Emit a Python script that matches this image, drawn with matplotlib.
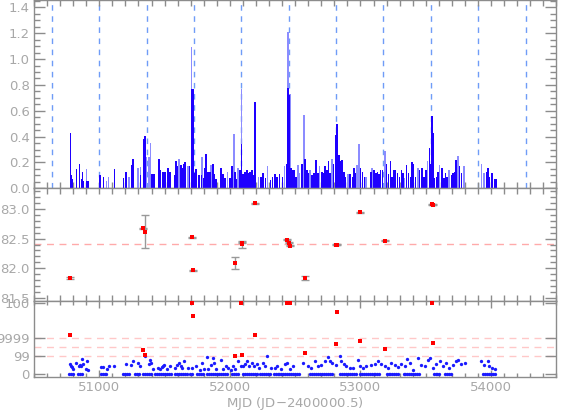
import numpy as np
import matplotlib.pyplot as plt
from matplotlib.ticker import MultipleLocator, FixedLocator

# top panel: bars (MJD, height)
dark_mjd = [50778, 50786, 50796, 50824, 50847, 50862, 50870, 50878, 50901, 50912,
            51005, 51031, 51115, 51184, 51204, 51248, 51256, 51314, 51337, 51350,
            51403, 51418, 51459, 51467, 51487, 51503, 51528, 51541, 51579, 51589,
            51600, 51625, 51635, 51646, 51658, 51692, 51707, 51717, 51727, 51740,
            51765, 51783, 51799, 51809, 51819, 51834, 51847, 51872, 51880, 51893,
            51931, 51949, 51962, 52000, 52015, 52040, 52051, 52076, 52089, 52102,
            52115, 52132, 52143, 52155, 52168, 52186, 52193, 52237, 52255, 52273,
            52311, 52327, 52344, 52359, 52380, 52403, 52434, 52444, 52454, 52467,
            52484, 52495, 52505, 52553, 52576, 52589, 52602, 52627, 52640, 52652,
            52660, 52675, 52704, 52717, 52729, 52742, 52755, 52767, 52793, 52811,
            52819, 52834, 52847, 52857, 52874, 52887, 52918, 52939, 52951, 52962,
            53000, 53015, 53031, 53079, 53102, 53117, 53130, 53142, 53155, 53168,
            53199, 53214, 53230, 53242, 53257, 53270, 53285, 53298, 53313, 53326,
            53354, 53367, 53385, 53394, 53405, 53420, 53453, 53471, 53486, 53502,
            53528, 53538, 53548, 53555, 53568, 53581, 53593, 53624, 53639, 53652,
            53665, 53696, 53708, 53721, 53734, 53757, 53774, 53968, 53979, 53989,
            54006, 54027, 54037]
dark_h = [0.425, 0.10, 0.07, 0.147, 0.19, 0.07, 0.13, 0.06, 0.06, 0.06,
          0.105, 0.087, 0.146, 0.08, 0.127, 0.18, 0.23, 0.10, 0.38, 0.405,
          0.11, 0.11, 0.225, 0.14, 0.13, 0.13, 0.155, 0.13, 0.10, 0.21,
          0.17, 0.18, 0.155, 0.185, 0.205, 0.17, 0.765, 0.77, 0.12, 0.15,
          0.10, 0.10, 0.08, 0.155, 0.265, 0.13, 0.13, 0.185, 0.11, 0.07,
          0.16, 0.11, 0.08, 0.08, 0.17, 0.13, 0.07, 0.14, 0.34, 0.11,
          0.13, 0.14, 0.12, 0.13, 0.14, 0.10, 0.665, 0.085, 0.12, 0.08,
          0.065, 0.09, 0.11, 0.09, 0.11, 0.09, 0.19, 0.78, 0.72, 0.155,
          0.14, 0.14, 0.09, 0.185, 0.23, 0.14, 0.12, 0.10, 0.12, 0.12,
          0.22, 0.12, 0.13, 0.12, 0.17, 0.14, 0.21, 0.12, 0.19, 0.41,
          0.50, 0.26, 0.21, 0.22, 0.13, 0.09, 0.11, 0.085, 0.155, 0.12,
          0.155, 0.13, 0.09, 0.13, 0.14, 0.12, 0.13, 0.11, 0.14, 0.14,
          0.19, 0.11, 0.21, 0.09, 0.14, 0.14, 0.12, 0.09, 0.145, 0.12,
          0.18, 0.12, 0.09, 0.20, 0.185, 0.09, 0.14, 0.155, 0.09, 0.145,
          0.31, 0.185, 0.56, 0.425, 0.08, 0.09, 0.13, 0.155, 0.08, 0.12,
          0.09, 0.10, 0.12, 0.13, 0.22, 0.17, 0.12, 0.13, 0.155, 0.09,
          0.12, 0.075, 0.07]
light_mjd = [50901, 51054, 51072, 51227, 51296, 51314, 51363, 51380, 51393, 51612,
             51681, 51707, 51785, 51857, 51982, 52030, 52063, 52089, 52219, 52288,
             52418, 52444, 52459, 52520, 52533, 52568, 52614, 52688, 52780, 52905,
             52974, 52989, 53041, 53088, 53186, 53339, 53440, 53515, 53606, 53678,
             53746, 53792, 53928, 53948]
light_h = [0.147, 0.06, 0.09, 0.09, 0.16, 0.165, 0.24, 0.24, 0.35, 0.23,
           0.17, 1.095, 0.24, 0.18, 0.13, 0.42, 0.16, 0.77, 0.09, 0.175,
           0.17, 1.21, 0.73, 0.18, 0.12, 0.57, 0.14, 0.175, 0.23, 0.11,
           0.18, 0.34, 0.085, 0.16, 0.29, 0.08, 0.16, 0.215, 0.18, 0.14,
           0.25, 0.17, 0.19, 0.12]
period_mjd = [50640, 51000, 51363, 51727, 52087, 52453, 52815, 53175, 53540, 53902, 54265]

# middle panel
mid_mjd = [50778, 51337, 51352, 51707, 51714, 52038, 52090, 52094, 52191, 52438,
           52449, 52459, 52574, 52816, 52823, 52994, 53186, 53545, 53555]
mid_val = [81.833, 82.677, 82.617, 82.522, 81.962, 82.083, 82.43, 82.405, 83.095, 82.483,
           82.428, 82.383, 81.833, 82.395, 82.40, 82.945, 82.465, 83.083, 83.072]
mid_err = [0.01, 0.01, 0.28, 0.01, 0.01, 0.1, 0.01, 0.06, 0.01, 0.01,
           0.01, 0.01, 0.03, 0.01, 0.01, 0.01, 0.01, 0.01, 0.01]
mid_ref = 82.405

# bottom panel (log10(x+1) units)
red_mjd = [50778, 51337, 51352, 51707, 51714, 52038, 52094, 52089, 52191, 52438,
           52459, 52574, 52816, 52820, 52994, 53186, 53548, 53555]
red_val = [4.38, 2.71, 2.17, 8.0, 6.59, 2.02, 2.1, 8.0, 4.34, 8.0,
           8.0, 2.4, 3.43, 7.0, 3.66, 2.86, 8.0, 3.47]
blue_mjd = [50778, 50786, 50793, 50801, 50824, 50842, 50852, 50860, 50870, 50878,
            50898, 50906, 50916, 51011, 51028, 51057, 51072, 51115, 51207, 51245,
            51256, 51298, 51314, 51350, 51378, 51388, 51395, 51408, 51451, 51464,
            51490, 51477, 51495, 51516, 51541, 51579, 51597, 51610, 51623, 51635,
            51650, 51681, 51707, 51740, 51770, 51788, 51803, 51821, 51834, 51852,
            51872, 51880, 51893, 51931, 51949, 51967, 51982, 52008, 52025, 52040,
            52066, 52082, 52102, 52115, 52128, 52148, 52166, 52186, 52204, 52222,
            52255, 52270, 52288, 52314, 52344, 52362, 52395, 52420, 52441, 52459,
            52484, 52561, 52599, 52624, 52650, 52675, 52701, 52726, 52752, 52764,
            52785, 52815, 52841, 52854, 52872, 52892, 52917, 52943, 52981, 52994,
            53019, 53045, 53083, 53109, 53134, 53160, 53185, 53211, 53236, 53262,
            53287, 53313, 53338, 53356, 53376, 53402, 53440, 53466, 53491, 53517,
            53530, 53555, 53580, 53606, 53631, 53657, 53682, 53708, 53733, 53746,
            53772, 53797, 53925, 53950, 53976, 53988, 54009, 54032]
blue_val = [1.14, 0.91, 0.76, 0.61, 1.29, 0.91, 0.99, 0.84, 1.68, 1.14,
            0.61, 1.41, 0.46, 0.80, 0.80, 0.57, 0.91, 0.91, 1.07, 1.03,
            1.41, 1.29, 0.84, 1.98, 1.10, 1.52, 1.29, 0.61, 0.69, 0.53,
            0.91, 0.76, 1.03, 0.61, 0.84, 0.72, 1.03, 1.29, 0.91, 0.65,
            1.41, 0.72, 0.72, 0.84, 0.46, 1.29, 0.61, 1.90, 0.61, 1.03,
            1.79, 1.29, 0.61, 1.52, 0.61, 0.84, 0.72, 0.42, 0.91, 0.61,
            1.41, 0.91, 0.84, 1.14, 1.41, 0.91, 1.29, 0.84, 1.14, 0.72,
            1.29, 0.84, 2.02, 0.72, 0.65, 0.84, 0.61, 1.14, 1.29, 0.61,
            0.91, 1.22, 0.91, 0.72, 1.41, 0.84, 1.03, 1.41, 1.87, 1.49,
            1.22, 1.03, 1.98, 1.41, 1.14, 0.91, 0.72, 0.65, 1.60, 0.91,
            0.65, 0.84, 1.03, 1.14, 1.41, 1.14, 0.91, 0.65, 1.29, 1.03,
            0.76, 1.14, 0.84, 1.71, 1.22, 0.46, 1.79, 1.03, 0.84, 1.60,
            1.79, 0.72, 1.14, 1.41, 0.84, 1.22, 0.65, 1.03, 1.41, 1.60,
            1.14, 1.29, 1.41, 1.03, 1.49, 0.84, 0.65, 0.57]
zero_mjd = [50770, 50785, 50800, 50840, 50855, 50870, 51010, 51025, 51040, 51055,
            51185, 51200, 51215, 51230, 51275, 51290, 51305, 51335, 51350, 51365,
            51380, 51395, 51430, 51445, 51460, 51475, 51490, 51505, 51520, 51535,
            51550, 51580, 51595, 51610, 51625, 51640, 51655, 51670, 51695, 51710,
            51750, 51765, 51780, 51795, 51825, 51840, 51855, 51870, 51885, 51900,
            51915, 51930, 51945, 51960, 51975, 52015, 52030, 52045, 52060, 52100,
            52115, 52130, 52145, 52160, 52175, 52190, 52205, 52230, 52245, 52260,
            52275, 52290, 52305, 52335, 52350, 52365, 52380, 52395, 52410, 52425,
            52440, 52455, 52470, 52485, 52500, 52515, 52530, 52615, 52630, 52645,
            52660, 52675, 52690, 52705, 52720, 52735, 52750, 52765, 52780, 52845,
            52860, 52875, 52890, 52905, 52920, 52935, 52950, 52965, 52995, 53010,
            53025, 53040, 53055, 53070, 53085, 53100, 53115, 53130, 53145, 53200,
            53215, 53230, 53245, 53260, 53275, 53290, 53330, 53345, 53360, 53375,
            53390, 53405, 53420, 53435, 53450, 53560, 53575, 53590, 53605, 53645,
            53660, 53675, 53690, 53940, 53955, 53970, 53985, 54000, 54015, 54030]
flag_ticks = [0, 2, 4, 8]
flag_labels = ['0', '99', '9999', '100']
flag_lines = [2, 3, 4]

axc = '#8c8c8c'
txc = '#a8a8a8'
plt.rcParams['font.family'] = 'DejaVu Sans'
plt.rcParams['font.size'] = 9.5

fig = plt.figure(figsize=(5.68, 4.19), dpi=100)
ax1 = fig.add_axes([0.0599, 0.5506, 0.9195, 0.4490])
ax2 = fig.add_axes([0.0599, 0.2823, 0.9195, 0.2683])
ax3 = fig.add_axes([0.0599, 0.1014, 0.9195, 0.1809])

for ax in (ax1, ax2, ax3):
    for s in ax.spines.values():
        s.set_color(axc)
        s.set_linewidth(1.0)
    ax.tick_params(which='both', direction='in', top=True, right=True,
                   colors=axc, labelcolor=txc, width=1.0, pad=3)
    ax.tick_params(which='major', length=8)
    ax.tick_params(which='minor', length=4)
    ax.set_xlim(50500, 54500)
    ax.xaxis.set_major_locator(MultipleLocator(1000))
    ax.xaxis.set_minor_locator(MultipleLocator(100))

# top
for m in period_mjd:
    ax1.axvline(m, color='#6f9cf7', ls=(0, (4, 4)), lw=1.0, zorder=1)
ax1.bar(light_mjd, light_h, width=12, color='#8c8cff', linewidth=0, zorder=2)
ax1.bar(dark_mjd, dark_h, width=12, color='#1e00ff', linewidth=0, zorder=3)
ax1.set_ylim(0, 1.456)
ax1.yaxis.set_major_locator(MultipleLocator(0.2))
ax1.yaxis.set_minor_locator(MultipleLocator(0.05))
ax1.yaxis.set_major_formatter(plt.FormatStrFormatter('%.1f'))
ax1.tick_params(axis='x', which='both', length=4, labelbottom=False)
ax1.set_ylabel('Flux (cts/cm$^2$/s)', color=txc)
ax1.yaxis.set_label_coords(-0.062, 0.5)

# middle
ax2.axhline(mid_ref, color='#ffaaaa', ls=(0, (5, 4)), lw=1.0, zorder=1)
ax2.errorbar(mid_mjd, mid_val, yerr=mid_err, fmt='none', ecolor='#999999',
             elinewidth=1.0, capsize=3, zorder=2)
ax2.plot(mid_mjd, mid_val, 's', color='#ff0000', ms=2.5, mew=0, zorder=3)
ax2.set_ylim(81.45, 83.35)
ax2.yaxis.set_major_locator(MultipleLocator(0.5))
ax2.yaxis.set_minor_locator(MultipleLocator(0.1))
ax2.yaxis.set_major_formatter(plt.FormatStrFormatter('%.1f'))
ax2.tick_params(axis='x', which='both', length=4, labelbottom=False)

# bottom
for v in flag_lines:
    ax3.axhline(v, color='#ffc8c8', ls=(0, (5, 4)), lw=1.0, zorder=1)
ax3.plot(zero_mjd, [0] * len(zero_mjd), 'o', color='#1a1aff', ms=2.4, mew=0, zorder=2)
ax3.plot(blue_mjd, blue_val, 'o', color='#1a1aff', ms=2.4, mew=0, zorder=2)
ax3.plot(red_mjd, red_val, 's', color='#ff0000', ms=2.5, mew=0, zorder=3)
ax3.set_ylim(-0.29, 8.26)
ax3.yaxis.set_major_locator(FixedLocator(flag_ticks))
ax3.set_yticklabels(flag_labels)
ax3.yaxis.set_minor_locator(FixedLocator([]))
ax3.tick_params(axis='x', which='major', length=5)
ax3.tick_params(axis='x', which='minor', length=3)
ax3.set_xlabel('MJD (JD$-$2400000.5)', color=txc, labelpad=1)

fig.savefig('out.png', dpi=100)
